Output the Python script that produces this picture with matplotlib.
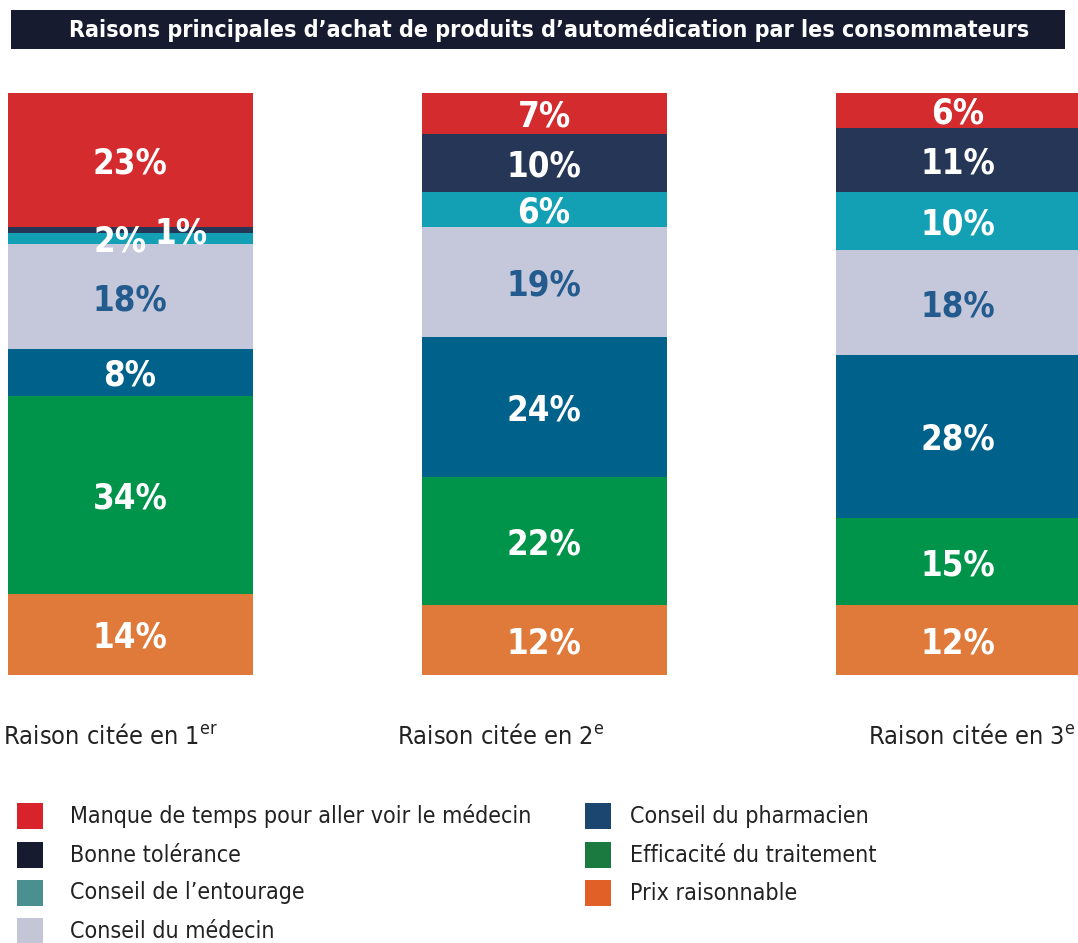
import matplotlib
matplotlib.use("Agg")
import matplotlib.pyplot as plt
from matplotlib.patches import Rectangle

# data (legend order, top of the stack first)
categories = [
    "Manque de temps pour aller voir le médecin",
    "Bonne tolérance",
    "Conseil de l’entourage",
    "Conseil du médecin",
    "Conseil du pharmacien",
    "Efficacité du traitement",
    "Prix raisonnable",
]
manque = [23, 7, 6]
tolerance = [1, 10, 11]
entourage = [2, 6, 10]
medecin = [18, 19, 18]
pharmacien = [8, 24, 28]
efficacite = [34, 22, 15]
prix = [14, 12, 12]
series = [manque, tolerance, entourage, medecin, pharmacien, efficacite, prix]

bar_labels = [("Raison citée en 1", "er"), ("Raison citée en 2", "e"), ("Raison citée en 3", "e")]
title = "Raisons principales d’achat de produits d’automédication par les consommateurs"

bar_colors = ["#d42b2f", "#253657", "#14a0b4", "#c5c8db", "#00628a", "#00944a", "#df7a3a"]
legend_colors = ["#d9232b", "#161b30", "#4a9090", "#c5c5d8", "#1a4670", "#1a7a40", "#e06028"]
text_colors = ["white", "white", "white", "#245b8f", "white", "white", "white"]

plt.rcParams["font.family"] = ["DejaVu Sans"]
plt.rcParams["font.stretch"] = "condensed"

W, H = 1078, 943
fig = plt.figure(figsize=(W / 100, H / 100), dpi=100)

def fx(px):
    return px / W

def fy(py):
    return 1 - py / H

# title bar
fig.add_artist(Rectangle((fx(11), fy(49)), fx(1054), 39 / H, transform=fig.transFigure,
                         facecolor="#161b30", edgecolor="none"))
fig.text(fx(549), fy(30), title, ha="center", va="center", color="white",
         fontsize=16.7, fontweight="bold")

# bars
spacing = 414
ax = fig.add_axes([0, fy(675), 1, 582 / H])
ax.set_xlim(-130 / spacing, (W - 130) / spacing)
ax.set_ylim(0, 100)
ax.axis("off")

xs = [0, 1, 2]
width = 245 / spacing
# small segments in the first bar are labelled beside each other
shifts = {(0, 1): 0.123, (0, 2): -0.024}

bottoms = [0, 0, 0]
for i in reversed(range(len(categories))):
    vals = series[i]
    ax.bar(xs, vals, width=width, bottom=bottoms, color=bar_colors[i], linewidth=0)
    for j, v in enumerate(vals):
        ax.text(xs[j] + shifts.get((j, i), 0), bottoms[j] + v / 2, f"{v}%",
                ha="center", va="center_baseline", color=text_colors[i],
                fontsize=25, fontweight="bold")
    bottoms = [b + v for b, v in zip(bottoms, vals)]

# category labels under the bars
label_x = [3, 397, 868]
for x, (main, sup) in zip(label_x, bar_labels):
    fig.text(fx(x), fy(737), main + r"$^{\mathregular{" + sup + "}}$", ha="left", va="center",
             color="#222222", fontsize=18.2)

# legend
leg_pos = [(17, 816), (17, 855), (17, 893), (17, 931), (585, 816), (585, 855), (585, 893)]
for k, ((lx, ly), name, c) in enumerate(zip(leg_pos, categories, legend_colors)):
    fig.add_artist(Rectangle((fx(lx), fy(ly + 13)), fx(26), 26 / H, transform=fig.transFigure,
                             facecolor=c, edgecolor="none"))
    gap = 53 if k < 4 else 45
    fig.text(fx(lx + gap), fy(ly), name, ha="left", va="center", color="#222222", fontsize=16.7)

fig.savefig("out.png", dpi=100)
